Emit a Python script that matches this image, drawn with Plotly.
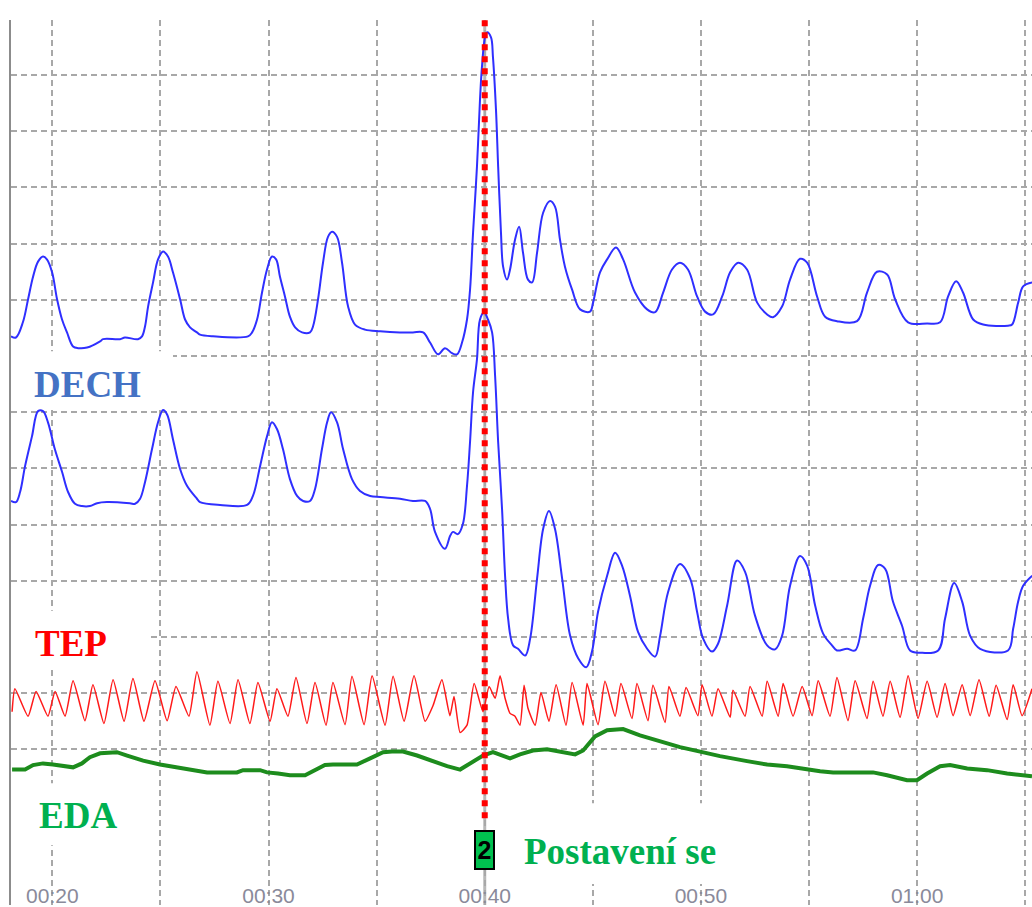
import plotly.graph_objects as go

# ---- time axis (seconds) ----
x_range = [18.09, 65.31]
tick_seconds = [20, 25, 30, 35, 40, 45, 50, 55, 60, 65]
tick_labels = ["00:20", "", "00:30", "", "00:40", "", "00:50", "", "01:00", ""]
grid_levels = list(range(0, 13))
y_range = [-2.77, 12.98]

# ---- event marker ----
event_time = 40.0
event_number = "2"
event_name = "Postavení se"

# ---- DECH, upper (chest) belt ----
chest_t = [18.09, 18.32, 18.64, 18.88, 19.11, 19.34, 19.57, 19.75, 19.99, 20.22,
           20.45, 20.68, 20.96, 21.19, 21.61, 22.21, 22.35, 23.13, 23.36, 23.96,
           24.15, 24.29, 24.43, 24.66, 24.89, 25.12, 25.35, 25.58, 25.91, 26.14,
           26.37, 26.69, 26.83, 27.43, 29.05, 29.24, 29.47, 29.70, 29.93, 30.16,
           30.35, 30.53, 30.76, 30.99, 31.23, 31.55, 31.92, 32.06, 32.29, 32.52,
           32.75, 32.94, 33.17, 33.40, 33.68, 34.00, 34.46, 35.16, 36.08, 36.68,
           37.15, 37.47, 37.84, 38.16, 38.49, 38.72, 38.95, 39.18, 39.32, 39.46,
           39.64, 39.78, 39.87, 40.01, 40.11, 40.29, 40.38, 40.52, 40.62, 40.75,
           40.85, 41.03, 41.17, 41.40, 41.59, 41.77, 42.00, 42.19, 42.42, 42.70,
           43.02, 43.25, 43.48, 43.71, 44.04, 44.41, 44.87, 45.01, 45.33, 45.66,
           46.07, 46.40, 46.95, 47.51, 47.88, 48.25, 48.66, 49.03, 49.40, 49.82,
           50.19, 50.56, 50.98, 51.35, 51.72, 52.13, 52.60, 53.06, 53.33, 53.75,
           54.12, 54.58, 54.91, 55.37, 55.74, 56.29, 57.22, 57.68, 58.14, 58.61,
           58.98, 59.58, 60.46, 61.06, 61.43, 61.80, 62.12, 62.59, 63.05, 64.20,
           64.39, 64.67, 64.90, 65.32]
chest_v = [7.35, 7.33, 7.60, 8.01, 8.41, 8.68, 8.77, 8.72, 8.49, 8.01,
           7.65, 7.42, 7.17, 7.14, 7.15, 7.26, 7.30, 7.30, 7.33, 7.30,
           7.35, 7.53, 7.88, 8.31, 8.72, 8.86, 8.77, 8.49, 8.01, 7.65,
           7.51, 7.42, 7.38, 7.35, 7.35, 7.42, 7.65, 8.13, 8.54, 8.77,
           8.72, 8.41, 8.06, 7.70, 7.51, 7.42, 7.42, 7.53, 8.01, 8.66,
           9.12, 9.21, 9.12, 8.66, 7.88, 7.56, 7.47, 7.44, 7.42, 7.42,
           7.42, 7.24, 7.03, 7.14, 7.05, 7.03, 7.24, 7.65, 8.18, 9.20,
           10.37, 11.56, 12.14, 12.67, 12.76, 12.67, 12.32, 11.38, 10.37, 9.20,
           8.59, 8.36, 8.54, 9.07, 9.30, 8.84, 8.36, 8.31, 8.84, 9.55,
           9.76, 9.66, 9.07, 8.59, 8.18, 7.83, 7.79, 7.95, 8.49, 8.72,
           8.93, 8.72, 8.13, 7.83, 7.78, 8.13, 8.54, 8.66, 8.54, 8.06,
           7.79, 7.74, 8.06, 8.49, 8.66, 8.54, 7.95, 7.74, 7.69, 7.88,
           8.36, 8.73, 8.66, 8.06, 7.70, 7.62, 7.62, 8.13, 8.50, 8.45,
           8.01, 7.60, 7.58, 7.60, 8.06, 8.33, 8.13, 7.65, 7.56, 7.54,
           7.56, 7.95, 8.24, 8.31]

# ---- DECH, lower (abdominal) belt ----
abdomen_t = [18.09, 18.32, 18.51, 18.74, 19.06, 19.34, 19.57, 19.80, 20.12, 20.45,
             20.73, 21.05, 21.37, 21.74, 22.07, 22.53, 23.59, 23.83, 24.06, 24.29,
             24.61, 24.89, 25.12, 25.31, 25.58, 25.91, 26.23, 26.69, 26.83, 27.76,
             29.01, 29.28, 29.61, 29.93, 30.16, 30.39, 30.67, 30.99, 31.32, 31.60,
             31.92, 32.15, 32.47, 32.71, 32.89, 33.17, 33.45, 33.86, 34.23, 34.70,
             35.16, 36.08, 36.68, 37.24, 37.47, 37.70, 38.16, 38.40, 38.53, 38.76,
             38.99, 39.18, 39.32, 39.46, 39.64, 39.78, 39.97, 40.15, 40.34, 40.48,
             40.62, 40.80, 40.94, 41.08, 41.31, 41.54, 41.87, 42.10, 42.42, 42.70,
             42.97, 43.25, 43.58, 43.95, 44.32, 44.69, 44.96, 45.24, 45.66, 46.03,
             46.35, 46.72, 47.09, 47.51, 47.88, 48.11, 48.48, 49.03, 49.50, 49.82,
             50.10, 50.51, 50.79, 51.21, 51.67, 52.04, 52.50, 53.06, 53.43, 53.75,
             54.12, 54.58, 54.91, 55.28, 55.65, 56.06, 56.29, 56.76, 57.13, 57.50,
             57.82, 58.19, 58.52, 58.88, 59.30, 59.67, 60.13, 60.97, 61.29, 61.71,
             62.08, 62.45, 62.91, 64.20, 64.44, 64.67, 64.90, 65.32]
abdomen_v = [4.42, 4.40, 4.58, 5.04, 5.57, 6.02, 6.02, 5.82, 5.34, 4.94,
             4.58, 4.37, 4.33, 4.33, 4.38, 4.40, 4.38, 4.37, 4.46, 4.76,
             5.34, 5.82, 6.04, 5.96, 5.52, 4.99, 4.69, 4.46, 4.40, 4.35,
             4.35, 4.51, 5.04, 5.57, 5.82, 5.70, 5.34, 4.81, 4.51, 4.42,
             4.42, 4.63, 5.34, 5.82, 6.00, 5.82, 5.34, 4.81, 4.60, 4.51,
             4.49, 4.46, 4.42, 4.42, 4.28, 3.87, 3.57, 3.80, 3.87, 3.83,
             4.01, 4.69, 5.47, 6.36, 6.94, 7.65, 7.78, 7.65, 7.42, 6.64,
             5.47, 4.28, 3.09, 2.33, 1.85, 1.79, 1.67, 1.97, 3.04, 3.92,
             4.24, 3.92, 3.04, 2.02, 1.62, 1.46, 1.74, 2.45, 3.09, 3.50,
             3.27, 2.73, 2.09, 1.79, 1.65, 2.02, 2.80, 3.30, 3.04, 2.45,
             1.97, 1.74, 1.88, 2.56, 3.36, 3.16, 2.38, 1.85, 1.78, 2.02,
             2.91, 3.44, 3.27, 2.56, 2.06, 1.85, 1.76, 1.79, 1.76, 2.33,
             2.91, 3.28, 3.21, 2.63, 2.20, 1.76, 1.72, 1.76, 2.33, 2.96,
             2.63, 2.02, 1.79, 1.76, 2.15, 2.63, 2.91, 3.09]

# ---- TEP (pulse wave): alternating troughs and peaks ----
pulse_t = [18.14, 18.27, 18.88, 19.25, 19.80, 20.13, 20.59, 20.96, 21.51, 21.88,
           22.39, 22.81, 23.32, 23.73, 24.24, 24.75, 25.31, 25.72, 26.32, 26.69,
           27.29, 27.66, 28.22, 28.59, 29.14, 29.51, 30.07, 30.39, 30.90, 31.27,
           31.78, 32.15, 32.66, 32.98, 33.54, 33.86, 34.42, 34.79, 35.39, 35.76,
           36.27, 36.73, 37.24, 37.61, 38.02, 38.39, 38.58, 38.86, 39.18, 39.51,
           39.92, 40.20, 40.48, 40.71, 40.94, 41.17, 41.40, 41.63, 41.82, 42.00,
           42.33, 42.60, 42.97, 43.30, 43.76, 44.04, 44.55, 44.73, 45.24, 45.56,
           46.03, 46.30, 46.81, 47.04, 47.55, 47.78, 48.34, 48.52, 49.03, 49.31,
           49.86, 50.05, 50.51, 50.79, 51.35, 51.48, 52.04, 52.27, 52.83, 53.06,
           53.57, 53.80, 54.26, 54.68, 55.14, 55.42, 55.97, 56.29, 56.80, 57.13,
           57.68, 57.96, 58.42, 58.75, 59.21, 59.58, 60.04, 60.46, 60.92, 61.29,
           61.66, 62.08, 62.45, 62.86, 63.33, 63.65, 64.16, 64.44, 64.85, 65.31]
pulse_v = [0.67, 1.08, 0.59, 1.03, 0.59, 1.03, 0.59, 1.22, 0.51, 1.15,
           0.46, 1.24, 0.50, 1.26, 0.50, 1.22, 0.51, 1.12, 0.59, 1.38,
           0.43, 1.21, 0.46, 1.24, 0.46, 1.19, 0.50, 1.08, 0.59, 1.28,
           0.46, 1.19, 0.43, 1.19, 0.44, 1.30, 0.44, 1.31, 0.43, 1.30,
           0.50, 1.31, 0.50, 0.78, 1.24, 0.60, 0.94, 0.30, 0.43, 1.17,
           0.67, 1.12, 0.91, 1.31, 0.91, 0.64, 0.59, 0.43, 1.14, 0.73,
           0.43, 1.01, 0.50, 1.15, 0.43, 1.19, 0.43, 1.17, 0.44, 1.21,
           0.59, 1.17, 0.55, 1.17, 0.51, 1.14, 0.48, 1.12, 0.59, 1.10,
           0.60, 1.15, 0.59, 1.08, 0.57, 1.05, 0.59, 1.12, 0.59, 1.21,
           0.59, 1.17, 0.59, 1.12, 0.60, 1.22, 0.59, 1.28, 0.51, 1.22,
           0.55, 1.21, 0.59, 1.21, 0.57, 1.31, 0.55, 1.21, 0.57, 1.17,
           0.60, 1.15, 0.60, 1.24, 0.59, 1.14, 0.53, 1.15, 0.60, 1.08]

# ---- EDA (skin conductance) ----
eda_t = [18.14, 18.74, 19.11, 19.57, 20.03, 20.59, 20.96, 21.37, 21.74, 22.21,
         22.99, 23.46, 24.20, 24.98, 25.77, 26.51, 27.16, 28.54, 28.82, 29.61,
         29.93, 30.44, 30.99, 31.69, 32.15, 32.61, 32.98, 34.09, 34.70, 35.30,
         35.71, 36.22, 36.87, 37.61, 38.26, 38.86, 39.32, 39.92, 40.38, 40.85,
         41.17, 41.63, 42.23, 42.88, 43.48, 44.18, 44.55, 45.10, 45.66, 46.40,
         47.18, 48.11, 49.03, 49.96, 50.88, 52.13, 53.06, 53.98, 54.91, 55.51,
         56.11, 57.96, 58.61, 59.53, 59.99, 60.46, 61.06, 61.52, 62.31, 63.23,
         64.16, 64.85, 65.31]
eda_v = [-0.36, -0.36, -0.28, -0.25, -0.27, -0.30, -0.32, -0.25, -0.14, -0.07,
         -0.05, -0.11, -0.20, -0.27, -0.32, -0.37, -0.41, -0.41, -0.37, -0.37,
         -0.41, -0.43, -0.46, -0.46, -0.37, -0.28, -0.27, -0.27, -0.16, -0.05,
         -0.04, -0.04, -0.11, -0.21, -0.30, -0.36, -0.25, -0.11, -0.05, -0.11,
         -0.16, -0.09, -0.02, 0.00, -0.04, -0.09, -0.02, 0.23, 0.34, 0.36,
         0.25, 0.14, 0.04, -0.04, -0.12, -0.21, -0.27, -0.30, -0.36, -0.39,
         -0.41, -0.41, -0.46, -0.55, -0.55, -0.43, -0.30, -0.28, -0.34, -0.37,
         -0.43, -0.46, -0.48]

BLUE = "#2f2fff"
RED = "#ff1a1a"
GREEN_LINE = "#1d8c1d"
GRID = "#a8a8a8"
SERIF = "Liberation Serif"

fig = go.Figure()
fig.add_trace(go.Scatter(x=chest_t, y=chest_v, mode="lines", name="DECH hrudní",
                         line=dict(color=BLUE, width=2, shape="spline", smoothing=1.0),
                         hoverinfo="skip"))
fig.add_trace(go.Scatter(x=abdomen_t, y=abdomen_v, mode="lines", name="DECH břišní",
                         line=dict(color=BLUE, width=2, shape="spline", smoothing=1.0),
                         hoverinfo="skip"))
fig.add_trace(go.Scatter(x=pulse_t, y=pulse_v, mode="lines", name="TEP",
                         line=dict(color=RED, width=1.5, shape="spline", smoothing=0.5),
                         hoverinfo="skip"))
fig.add_trace(go.Scatter(x=eda_t, y=eda_v, mode="lines", name="EDA",
                         line=dict(color=GREEN_LINE, width=4), hoverinfo="skip"))

W, H = 1032, 907
ML, MT = 11, 20
PW, PH = W - ML, H - MT


def px(xp):
    return (xp - ML) / PW


def py(yp):
    return (H - yp) / PH


shapes = [
    # event line behind the traces
    dict(type="line", xref="x", yref="paper", x0=event_time, x1=event_time,
         y0=0, y1=1, line=dict(color="#b8b8b8", width=3), layer="below"),
    # red dotted event line
    dict(type="line", xref="x", yref="paper", x0=event_time, x1=event_time,
         y0=py(820), y1=py(15), line=dict(color="#ff0000", width=6, dash="6px,6px"),
         layer="above"),
]
# white panels behind the channel captions
for x0, x1, y0, y1 in [(11, 173, 352, 410), (11, 150, 612, 670),
                       (11, 135, 785, 847), (515, 735, 805, 886)]:
    shapes.append(dict(type="rect", xref="paper", yref="paper",
                       x0=px(x0), x1=px(x1), y0=py(y1), y1=py(y0),
                       fillcolor="white", line=dict(width=0), layer="above"))

annotations = [
    dict(text="<b>DECH</b>", x=px(87.5), y=py(385.5), font=dict(color="#4472c4")),
    dict(text="<b>TEP</b>", x=px(70.5), y=py(645), font=dict(color="#ff0000")),
    dict(text="<b>EDA</b>", x=px(77.5), y=py(817.5), font=dict(color="#00b050")),
    dict(text="<b>" + event_name + "</b>", x=px(619.5), y=py(853.5),
         font=dict(color="#00b050")),
]
for a in annotations:
    a.update(xref="paper", yref="paper", showarrow=False,
             xanchor="center", yanchor="middle")
    a["font"].update(family=SERIF, size=37)

annotations.append(dict(
    text="<b>" + event_number + "</b>", xref="x", yref="paper",
    x=event_time, y=py(852), showarrow=False, xanchor="center", yanchor="middle",
    font=dict(family="Liberation Sans", size=25, color="black"),
    bgcolor="#00c04f", bordercolor="black", borderwidth=2, borderpad=0,
    width=17, height=36))

fig.update_layout(
    width=W, height=H,
    margin=dict(l=ML, r=0, t=MT, b=0),
    paper_bgcolor="white", plot_bgcolor="white",
    showlegend=False,
    shapes=shapes,
    annotations=annotations,
    xaxis=dict(range=x_range, tickvals=tick_seconds, ticktext=tick_labels,
               showgrid=True, gridcolor=GRID, gridwidth=1.5, griddash="6px,4px",
               zeroline=False, showline=False, ticks="",
               ticklabelposition="inside", ticklabelstandoff=-5,
               tickfont=dict(family="Liberation Sans", size=21, color="#8a8a9a")),
    yaxis=dict(range=y_range, tickvals=grid_levels, showticklabels=False,
               showgrid=True, gridcolor=GRID, gridwidth=1.5, griddash="6px,4px",
               zeroline=False, showline=True, linecolor="#8c8c8c", linewidth=2,
               ticks=""),
)

fig.write_html("out.html")
